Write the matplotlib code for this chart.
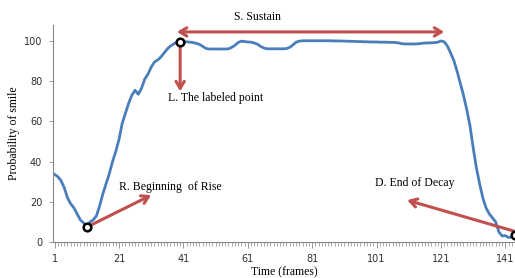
import numpy as np
import matplotlib.pyplot as plt

# --------------------------------------------------------------------
# Dados
# --------------------------------------------------------------------
frames = np.arange(1, 145)
prob_smile = [
    33.6, 32.5, 30.5, 27.0, 22.0, 19.0, 17.0, 14.0, 11.0, 9.5,      # 1-10
    7.5, 10.0, 11.0, 13.0, 18.0, 24.0, 29.0, 34.0, 40.0, 45.0,      # 11-20
    51.0, 59.0, 64.0, 69.0, 73.0, 75.5, 73.5, 76.5, 81.0, 83.5,     # 21-30
    87.0, 89.5, 90.5, 92.0, 94.0, 96.0, 97.5, 98.5, 99.5, 99.4,     # 31-40
    99.5, 99.6, 99.4, 99.2, 98.8, 98.3, 97.3, 96.3, 96.0, 96.0,     # 41-50
    96.0, 96.0, 96.0, 96.0, 96.1, 96.8, 97.8, 99.2, 99.9, 99.7,     # 51-60
    99.5, 99.4, 99.0, 98.4, 97.3, 96.5, 96.1, 96.1, 96.1, 96.1,     # 61-70
    96.1, 96.1, 96.2, 96.8, 98.0, 99.4, 99.9, 100.1, 100.1, 100.1,  # 71-80
    100.1, 100.1, 100.1, 100.1, 100.1, 100.1, 100.1, 100.0, 100.0, 100.0,  # 81-90
    99.9, 99.9, 99.8, 99.8, 99.7, 99.7, 99.6, 99.6, 99.5, 99.5,     # 91-100
    99.5, 99.4, 99.4, 99.4, 99.3, 99.3, 99.2, 99.0, 98.6, 98.5,     # 101-110
    98.5, 98.5, 98.5, 98.6, 98.8, 99.0, 99.0, 99.1, 99.2, 99.4,     # 111-120
    100.0, 99.6, 97.5, 94.0, 90.3, 85.0, 79.0, 73.0, 66.0, 58.0,    # 121-130
    47.0, 37.0, 29.0, 22.0, 17.0, 14.0, 12.0, 10.0, 5.0, 3.0,       # 131-140
    3.2, 2.2, 2.5, 3.5,                                             # 141-144
]
pontos_marcados = [11, 40, 144]
xticks = [1, 21, 41, 61, 81, 101, 121, 141]
yticks = [0, 20, 40, 60, 80, 100]

cor_linha = "#4A7EBB"
cor_seta = "#C0504D"
serif = "Liberation Serif"

# --------------------------------------------------------------------
# Figura
# --------------------------------------------------------------------
fig = plt.figure(figsize=(5.15, 2.78), dpi=100)
ax = fig.add_axes([0.1035, 0.1295, 0.8965, 0.781])

ax.plot(frames, prob_smile, color=cor_linha, lw=2.0, solid_joinstyle="round")

idx = [f - 1 for f in pontos_marcados]
ax.plot([frames[i] for i in idx], [prob_smile[i] for i in idx], "o",
        ms=5.5, mfc="white", mec="black", mew=1.8, zorder=5, clip_on=False)

ax.set_xlim(0.6, 144.0)
ax.set_ylim(0, 108)
ax.set_xticks(xticks)
ax.set_xticks(frames, minor=True)
ax.set_yticks(yticks)

for lado in ["top", "right"]:
    ax.spines[lado].set_visible(False)
for lado in ["left", "bottom"]:
    ax.spines[lado].set_color("#888888")
    ax.spines[lado].set_linewidth(0.8)

ax.tick_params(axis="x", which="major", length=4, width=0.6, color="#888888",
               labelsize=7, labelcolor="#303030", pad=5)
ax.tick_params(axis="x", which="minor", length=3, width=0.5, color="#888888")
ax.tick_params(axis="y", length=3, width=0.6, color="#888888",
               labelsize=7, labelcolor="#303030", pad=5)

ax.set_xlabel("Time (frames)", family=serif, fontsize=8.5, labelpad=1)
ax.set_ylabel("Probability of smile", family=serif, fontsize=8.5, labelpad=3)

# --------------------------------------------------------------------
# Anotações
# --------------------------------------------------------------------
seta = dict(color=cor_seta, lw=2.2, shrinkA=0, shrinkB=0)

ax.annotate("", xy=(39.0, 104.5), xytext=(122.0, 104.5),
            arrowprops=dict(arrowstyle="<->,head_length=0.5,head_width=0.3", **seta),
            annotation_clip=False)
ax.text(64, 112, "S. Sustain", family=serif, fontsize=8.5, ha="center", va="center")

ax.annotate("", xy=(frames[idx[1]], 75), xytext=(frames[idx[1]], 98),
            arrowprops=dict(arrowstyle="->,head_length=0.5,head_width=0.3", **seta))
ax.text(51, 71.5, "L. The labeled point", family=serif, fontsize=8.5,
        ha="center", va="center")

ax.annotate("", xy=(31.0, 23.3), xytext=(frames[idx[0]] + 0.5, 7.8),
            arrowprops=dict(arrowstyle="->,head_length=0.5,head_width=0.3", **seta))
ax.text(37, 27.2, "R. Beginning  of Rise", family=serif, fontsize=8.5,
        ha="center", va="center")

ax.annotate("", xy=(110.5, 20.8), xytext=(143.5, 5.5),
            arrowprops=dict(arrowstyle="->,head_length=0.5,head_width=0.3", **seta),
            annotation_clip=False)
ax.text(113, 29.3, "D. End of Decay", family=serif, fontsize=8.5,
        ha="center", va="center")

fig.savefig("out.png", dpi=100)
